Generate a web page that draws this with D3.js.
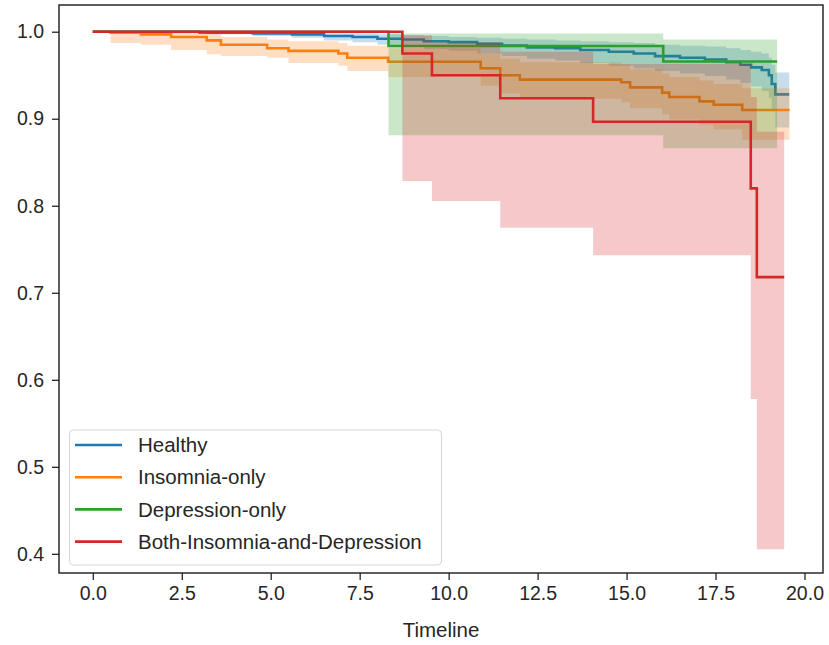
<!DOCTYPE html>
<html>
<head>
<meta charset="utf-8">
<script src="https://cdn.jsdelivr.net/npm/d3@7"></script>
<style>
  body { margin: 0; background: #fff; }
  text { font-family: "Liberation Sans", Arial, sans-serif; }
</style>
</head>
<body>
<svg id="chart"></svg>
<script>
// Kaplan-Meier estimates, step-after
const labels = ["Healthy", "Insomnia-only", "Depression-only", "Both-Insomnia-and-Depression"];
const colors = ["#1f77b4", "#ff7f0e", "#2ca02c", "#d62728"];

const healthyT  = [0, 3.0, 4.5, 5.6, 6.5, 7.3, 8.0, 8.7, 9.3, 10.0, 10.8, 11.5, 12.2, 13.0, 13.7, 14.5, 15.2, 15.8, 16.5, 17.2, 17.8, 18.2, 18.5, 18.8, 19.0, 19.08, 19.18];
const healthyS  = [1.0, 0.999, 0.998, 0.997, 0.995, 0.994, 0.992, 0.991, 0.989, 0.988, 0.986, 0.984, 0.982, 0.981, 0.979, 0.977, 0.975, 0.972, 0.970, 0.968, 0.965, 0.962, 0.959, 0.956, 0.950, 0.940, 0.928];
const healthyLo = [1.0, 0.997, 0.995, 0.993, 0.990, 0.988, 0.985, 0.983, 0.980, 0.978, 0.975, 0.972, 0.969, 0.967, 0.964, 0.961, 0.958, 0.955, 0.952, 0.949, 0.945, 0.941, 0.937, 0.932, 0.924, 0.910, 0.890];
const healthyHi = [1.0, 1.0, 1.0, 0.999, 0.998, 0.998, 0.997, 0.996, 0.995, 0.994, 0.993, 0.992, 0.991, 0.990, 0.989, 0.988, 0.987, 0.985, 0.984, 0.983, 0.981, 0.979, 0.977, 0.975, 0.970, 0.962, 0.953];
const healthyEnd = 19.57;

const insomniaT  = [0, 0.5, 1.35, 2.2, 3.2, 3.6, 4.9, 5.5, 6.9, 7.15, 8.3, 10.9, 11.45, 12.0, 14.85, 15.1, 16.0, 16.2, 17.05, 17.45, 18.25];
const insomniaS  = [1.0, 0.999, 0.997, 0.994, 0.990, 0.985, 0.981, 0.978, 0.975, 0.970, 0.9655, 0.958, 0.950, 0.945, 0.942, 0.936, 0.930, 0.925, 0.920, 0.916, 0.910];
const insomniaLo = [1.0, 0.987, 0.985, 0.979, 0.974, 0.972, 0.970, 0.964, 0.961, 0.955, 0.948, 0.938, 0.929, 0.923, 0.919, 0.912, 0.905, 0.899, 0.893, 0.888, 0.876];
const insomniaHi = [1.0, 1.0, 1.0, 0.999, 0.997, 0.994, 0.991, 0.989, 0.987, 0.984, 0.981, 0.975, 0.969, 0.965, 0.962, 0.957, 0.952, 0.948, 0.944, 0.940, 0.935];
const insomniaEnd = 19.58;

const depressionT  = [0, 8.31, 16.03];
const depressionS  = [1.0, 0.9836, 0.9658];
const depressionLo = [1.0, 0.881, 0.866];
const depressionHi = [1.0, 0.998, 0.991];
const depressionEnd = 19.23;

const bothT  = [0, 8.70, 9.53, 11.45, 14.06, 18.49, 18.66];
const bothS  = [1.0, 0.975, 0.950, 0.9235, 0.8966, 0.820, 0.718];
const bothLo = [1.0, 0.8285, 0.8055, 0.7748, 0.743, 0.578, 0.4054];
const bothHi = [1.0, 0.996, 0.988, 0.977, 0.963, 0.925, 0.885];
const bothEnd = 19.43;

const xTicks = [0, 2.5, 5, 7.5, 10, 12.5, 15, 17.5, 20];
const yTicks = [0.4, 0.5, 0.6, 0.7, 0.8, 0.9, 1.0];

const W = 829, H = 645;
const frame = { left: 59, right: 823, top: 5, bottom: 573 };
const ink = "#262626";

const svg = d3.select("#chart").attr("width", W).attr("height", H);

const x = d3.scaleLinear().domain([-0.95, 20.52]).range([frame.left, frame.right]);
const y = d3.scaleLinear().domain([0.378, 1.0307]).range([frame.bottom, frame.top]);

function build(T, S, Lo, Hi, end) {
  let pts = T.map((t, i) => ({ t: t, s: S[i], lo: Lo[i], hi: Hi[i] }));
  let last = pts[pts.length - 1];
  pts.push({ t: end, s: last.s, lo: last.lo, hi: last.hi });
  return pts;
}

const series = [
  build(healthyT, healthyS, healthyLo, healthyHi, healthyEnd),
  build(insomniaT, insomniaS, insomniaLo, insomniaHi, insomniaEnd),
  build(depressionT, depressionS, depressionLo, depressionHi, depressionEnd),
  build(bothT, bothS, bothLo, bothHi, bothEnd)
];

const line = d3.line().x(d => x(d.t)).y(d => y(d.s)).curve(d3.curveStepAfter);
const band = d3.area().x(d => x(d.t)).y0(d => y(d.lo)).y1(d => y(d.hi)).curve(d3.curveStepAfter);

const plot = svg.append("g");

// each fitter: line first, then its confidence band on top
series.forEach((pts, i) => {
  plot.append("path")
    .attr("d", line(pts))
    .attr("fill", "none")
    .attr("stroke", colors[i])
    .attr("stroke-width", 2.6);
  plot.append("path")
    .attr("d", band(pts))
    .attr("fill", colors[i])
    .attr("fill-opacity", 0.25)
    .attr("stroke", "none");
});

// axes
const xAxis = svg.append("g")
  .attr("transform", `translate(0,${frame.bottom})`)
  .call(d3.axisBottom(x).tickValues(xTicks).tickFormat(d3.format(".1f")).tickSize(7).tickPadding(6));
const yAxis = svg.append("g")
  .attr("transform", `translate(${frame.left},0)`)
  .call(d3.axisLeft(y).tickValues(yTicks).tickFormat(d3.format(".1f")).tickSize(7).tickPadding(8));

[xAxis, yAxis].forEach(a => {
  a.select(".domain").remove();
  a.selectAll(".tick line").attr("stroke", ink).attr("stroke-width", 1.3);
  a.selectAll(".tick text").attr("fill", ink).style("font-size", "19.5px");
});

// frame
svg.append("rect")
  .attr("x", frame.left).attr("y", frame.top)
  .attr("width", frame.right - frame.left).attr("height", frame.bottom - frame.top)
  .attr("fill", "none").attr("stroke", "#1a1a1a").attr("stroke-width", 1.4);

svg.append("text")
  .attr("x", (frame.left + frame.right) / 2)
  .attr("y", 637)
  .attr("text-anchor", "middle")
  .attr("fill", ink)
  .style("font-size", "20.5px")
  .text("Timeline");

// legend
const legend = svg.append("g");
legend.append("rect")
  .attr("x", 69.5).attr("y", 430)
  .attr("width", 372).attr("height", 135)
  .attr("rx", 4)
  .attr("fill", "#fff").attr("fill-opacity", 0.8)
  .attr("stroke", "#d6d6d6").attr("stroke-width", 1);

labels.forEach((lab, i) => {
  let ly = 445 + i * 32.2;
  legend.append("line")
    .attr("x1", 75).attr("x2", 122)
    .attr("y1", ly).attr("y2", ly)
    .attr("stroke", colors[i]).attr("stroke-width", 2.6);
  legend.append("text")
    .attr("x", 138).attr("y", ly)
    .attr("dy", "0.35em")
    .attr("fill", ink)
    .style("font-size", "20.5px")
    .text(lab);
});
</script>
</body>
</html>
